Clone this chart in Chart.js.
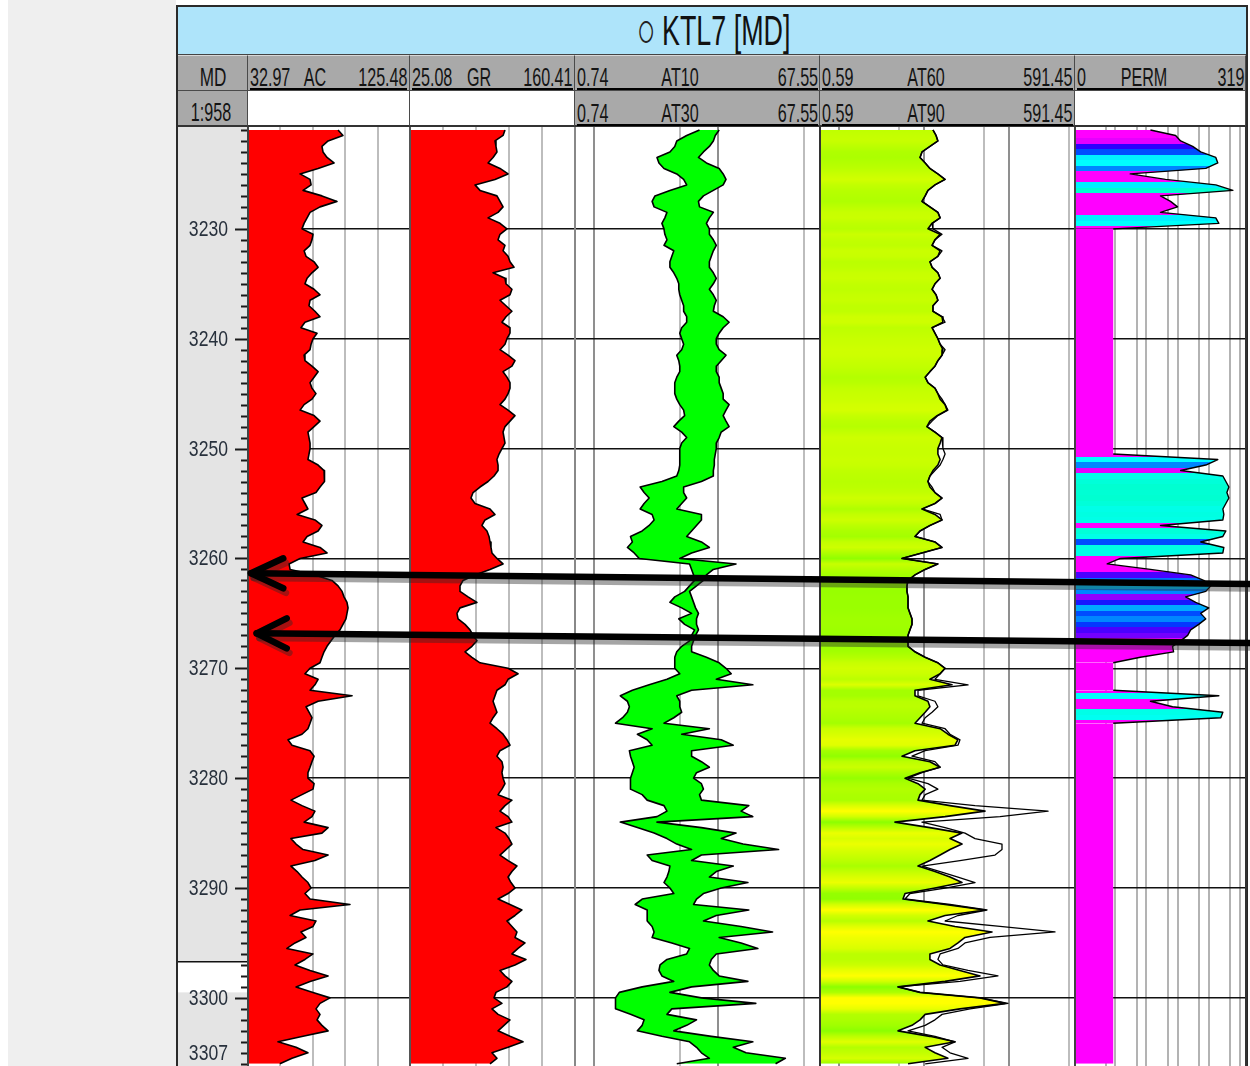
<!DOCTYPE html>
<html>
<head>
<meta charset="utf-8">
<script src="https://cdn.jsdelivr.net/npm/chart.js@4.4.1/dist/chart.umd.min.js"></script>
<style>
  html,body{margin:0;padding:0;}
  body{width:1250px;height:1066px;position:relative;overflow:hidden;background:#fff;font-family:"Liberation Sans",Arial,sans-serif;}
  .a{position:absolute;box-sizing:border-box;}
  .t{position:absolute;white-space:nowrap;color:#141414;}
  canvas{position:absolute;display:block;}
</style>
</head>
<body>
<div class="a" style="left:8px;top:0;width:168px;height:1066px;background:#efefef"></div>
<div class="a" style="left:176px;top:5px;width:1072px;height:1080px;border:2px solid #2a2a2a;background:#fff"></div>
<div class="a" style="left:178px;top:7px;width:1068px;height:48px;background:#aee4fa;border-bottom:1px solid #444"></div>
<script>
// ---------------- DATA ----------------
const depthTop = 3220.73, depthBottom = 3306.2;
const sampleStart = 3221, sampleStep = 0.5;
const depthTicks = [3220, 3230, 3240, 3250, 3260, 3270, 3280, 3290, 3300];
const bottomTickLabel = '3307', bottomTickDepth = 3305;
const scaleNote = '1:958';
const whiteBand = [3296.7, 3299.5];

const AC_RANGE = [32.97, 125.48];
const GR_RANGE = [25.08, 160.41];
const AT_SHALLOW_RANGE = [0.74, 67.55];
const AT_DEEP_RANGE = [0.59, 591.45];
const PERM_RANGE = [0.001, 319];

const AC = [
 84.4,87.2,78.7,75.2,75.8,78.1,82.1,73.0,62.7,68.4,
 69.0,64.4,75.2,83.8,74.1,68.4,66.7,65.0,63.8,70.1,
 69.5,68.4,65.0,66.1,70.7,73.0,69.5,66.7,65.5,70.7,
 74.1,68.4,67.8,71.2,74.1,65.5,63.2,72.4,70.1,69.0,
 68.4,65.0,65.5,69.5,73.0,70.7,68.4,69.5,71.8,69.5,
 65.0,62.7,70.7,74.1,70.7,67.2,67.8,68.4,68.4,67.8,
 67.2,73.0,76.4,76.4,76.9,74.1,71.8,63.8,65.5,67.2,
 61.0,71.2,75.2,73.0,66.7,64.4,74.1,78.1,62.7,56.4,
 57.0,71.2,80.9,84.4,86.7,87.8,89.5,90.1,89.5,88.9,
 87.2,85.5,82.7,80.4,78.1,76.4,75.2,74.1,68.4,65.5,
 73.0,71.2,68.4,92.4,73.0,66.1,67.8,69.5,68.4,67.2,
 63.8,55.8,58.1,68.4,70.7,69.5,68.4,67.2,67.2,70.7,
 70.1,63.8,57.5,63.8,71.2,69.5,65.0,78.7,75.2,57.5,
 60.4,64.4,78.7,71.2,57.5,61.0,63.8,67.2,69.0,65.5,
 68.4,91.2,62.7,57.0,71.8,70.1,63.2,66.1,59.8,55.2,
 70.1,65.5,59.8,68.4,78.7,68.4,60.4,70.1,79.8,74.1,
 71.8,74.1,72.4,75.2,78.7,64.4,50.1,60.4,67.2,58.1,
 51.2];

const GR = [
 103.0,101.4,94.8,95.6,96.4,93.2,89.1,98.9,105.5,94.8,
 78.4,82.5,96.4,98.9,101.4,97.3,89.1,98.9,104.6,98.9,
 97.3,103.0,101.4,105.5,107.1,110.4,93.2,103.0,103.8,108.7,
 107.1,98.9,103.8,108.7,103.8,100.5,107.1,107.1,104.6,103.0,
 98.9,105.5,111.2,108.7,101.4,104.6,107.1,107.1,105.5,103.0,
 98.9,105.5,111.2,107.1,103.0,101.4,102.2,103.0,100.5,98.1,
 96.4,97.3,97.3,94.0,89.1,82.5,76.8,75.1,78.4,90.7,
 94.8,86.6,84.1,88.2,89.9,90.7,91.5,92.3,96.4,101.4,
 90.7,78.4,68.6,66.1,66.1,72.7,80.0,66.1,63.6,64.5,
 70.2,74.3,76.8,80.0,75.9,70.2,75.9,82.5,105.5,113.7,
 105.5,103.0,96.4,94.8,93.2,94.8,96.4,93.2,90.7,96.4,
 101.4,104.6,107.1,98.9,96.4,100.5,101.4,100.5,101.4,103.0,
 100.5,97.3,108.7,103.0,98.9,105.5,108.7,95.6,103.0,106.3,
 108.7,103.8,98.9,105.5,112.8,108.7,105.5,107.9,111.2,105.5,
 97.3,107.1,116.9,111.2,104.6,108.7,112.8,111.2,119.4,113.7,
 108.7,120.2,111.2,98.9,103.0,108.7,104.6,95.6,94.0,100.5,
 92.3,97.3,107.1,102.2,97.3,107.1,117.8,105.5,92.3,96.4,
 90.7];

const AT10 = [
 7.14,5.62,4.67,4.50,4.11,3.23,3.35,3.68,4.67,5.31,
 5.62,4.11,3.11,2.95,3.06,3.89,3.74,3.54,3.68,3.74,
 3.89,3.68,4.42,4.26,4.11,4.11,4.42,4.67,4.85,4.85,
 4.94,5.12,5.31,5.31,5.62,5.62,5.12,4.94,5.12,5.31,
 5.12,4.67,4.85,4.94,4.94,4.67,4.50,4.50,4.50,4.67,
 4.94,5.31,5.41,4.85,4.42,5.12,5.62,5.12,4.94,4.94,
 4.94,4.94,4.85,4.67,3.54,2.36,2.54,2.79,2.54,2.36,
 2.95,3.06,2.79,2.45,1.97,2.04,1.86,2.11,2.32,5.93,
 6.16,6.39,6.51,5.93,5.41,4.50,4.11,5.12,6.16,4.85,
 5.41,6.51,6.16,5.93,5.12,4.67,4.50,4.50,4.50,4.94,
 3.89,2.79,2.04,1.63,1.86,1.93,1.86,1.70,1.49,2.95,
 2.24,2.69,2.95,1.93,1.97,2.04,2.11,2.04,1.97,1.97,
 1.97,2.45,2.69,3.68,3.89,3.23,1.63,2.24,3.06,3.89,
 4.67,6.16,2.69,2.95,4.11,4.03,3.89,3.68,4.11,4.42,
 2.45,2.15,2.69,2.69,2.69,2.95,3.06,2.95,4.26,5.93,
 5.62,3.89,3.42,3.35,3.54,4.42,2.45,1.60,1.49,1.49,
 1.49,1.97,2.54,2.45,2.24,3.54,5.93,6.75,7.40,8.58,
 4.67];

const AT30 = [
 10.3,9.58,9.24,8.58,7.68,7.00,8.12,10.3,11.1,11.7,
 11.1,9.24,7.68,7.00,7.14,9.24,8.58,8.12,8.58,8.58,
 9.24,9.76,9.24,8.90,8.58,8.58,9.24,9.76,9.24,8.58,
 9.24,9.76,9.41,9.24,11.1,12.4,11.1,10.3,9.76,9.76,
 10.3,11.7,10.7,9.76,9.76,10.3,10.3,10.7,11.1,11.1,
 12.4,11.7,11.1,11.7,12.4,10.7,10.3,9.76,9.76,9.58,
 9.41,9.41,9.24,9.24,7.40,5.31,5.31,5.62,5.12,4.67,
 7.40,7.40,6.75,6.16,5.62,7.40,8.58,6.16,4.94,14.1,
 9.24,8.12,7.68,6.75,5.93,6.16,6.39,6.63,7.00,6.75,
 6.75,7.00,6.63,6.39,6.16,6.16,8.12,10.3,11.7,12.9,
 9.76,19.3,6.16,4.67,4.94,4.94,5.12,4.42,3.68,8.58,
 5.12,10.7,13.4,6.16,6.16,7.40,8.58,6.75,6.39,7.40,
 7.68,7.14,7.40,17.9,15.5,19.3,3.23,7.40,14.1,10.7,
 16.1,31.2,7.40,6.16,13.4,9.76,8.58,17.6,10.7,7.68,
 6.75,6.39,17.9,9.76,7.68,15.5,27.9,10.3,15.5,21.2,
 9.76,8.90,8.58,9.24,10.3,17.6,6.16,4.11,7.40,20.4,
 4.26,3.89,6.75,5.62,4.42,8.90,19.3,13.4,17.0,35.4,
 29.5];

const AT60 = [
 12.6,13.7,14.4,11.6,9.36,8.87,10.2,11.6,14.4,17.5,
 13.3,11.0,10.2,9.36,11.6,14.4,15.3,12.3,11.0,15.3,
 13.3,12.3,15.3,14.4,11.6,12.3,14.4,15.3,13.3,12.3,
 13.7,14.4,12.6,12.6,16.1,16.5,12.3,13.3,14.4,15.3,
 16.5,16.1,14.4,13.3,11.6,10.2,11.0,13.3,14.4,15.3,
 17.5,18.4,14.1,11.6,10.7,13.3,16.1,15.3,14.4,14.4,
 15.3,14.4,12.6,11.6,11.0,11.6,13.3,16.1,13.3,9.36,
 13.3,16.1,11.6,8.87,7.74,13.3,16.1,9.36,5.44,14.4,
 10.2,7.74,6.41,6.23,6.23,6.41,6.41,6.41,6.76,7.14,
 7.14,6.76,6.41,6.41,6.41,7.74,10.2,14.4,17.5,15.3,
 11.6,21.1,7.74,7.74,11.0,11.6,10.2,8.87,7.74,15.3,
 18.9,24.8,22.9,7.74,5.44,11.6,15.3,8.87,5.91,8.40,
 10.2,8.87,8.40,20.0,51.6,17.5,4.50,11.6,27.7,20.0,
 27.7,20.0,15.3,11.6,8.40,13.3,20.0,27.7,13.3,5.91,
 5.59,17.5,51.6,17.5,11.0,22.9,62.4,30.0,24.8,20.0,
 11.6,11.6,15.3,26.2,45.1,17.5,4.89,8.87,45.1,88.8,
 26.2,10.2,8.87,7.14,4.89,11.6,22.9,10.2,13.3,18.9,
 6.41];

const AT90 = [
 12.6,13.7,14.4,11.6,9.36,8.87,10.2,11.6,14.4,17.5,
 13.3,11.0,10.2,9.36,11.6,14.4,15.3,12.3,12.6,16.1,
 13.3,12.3,16.1,14.4,11.6,12.3,14.4,15.3,13.3,12.3,
 13.7,14.4,12.6,12.6,16.1,17.5,12.3,13.3,14.4,15.3,
 17.5,16.1,14.4,13.3,11.6,10.2,11.0,13.3,14.4,16.1,
 17.5,18.9,14.4,12.3,10.7,13.3,16.1,16.5,16.5,17.5,
 16.5,15.3,13.3,11.6,11.0,12.3,13.3,16.1,13.3,9.36,
 15.3,16.1,11.6,8.87,7.74,13.3,16.1,9.36,5.44,14.4,
 10.2,7.74,6.41,6.23,6.23,6.41,6.41,6.41,6.76,7.14,
 7.14,6.76,6.41,6.41,6.41,7.74,10.2,14.4,17.5,15.3,
 13.3,32.6,8.40,8.40,13.3,14.4,12.3,10.2,9.36,17.5,
 20.0,26.2,24.8,10.2,7.14,13.3,15.3,9.36,6.41,11.0,
 14.4,10.2,9.36,39.4,285,77.5,9.36,17.5,30.0,39.4,
 81.8,81.8,67.7,26.2,9.36,15.3,24.8,39.4,17.5,6.76,
 5.91,20.0,54.5,24.8,17.5,77.5,344,59.1,30.0,24.8,
 15.3,14.4,16.5,32.6,73.4,26.2,4.89,8.87,45.1,96.3,
 34.4,16.1,13.3,10.2,6.41,13.3,22.9,16.1,20.0,32.6,
 10.2];

const PERM = [
 0.268,1.73,2.51,6.13,11.1,34.0,39.5,16.2,0.06,0.82,
 34.0,121,0.565,1.19,2.0,0.565,34.0,42.6,0.017,0.017,
 0.017,0.017,0.017,0.017,0.017,0.017,0.017,0.017,0.017,0.017,
 0.017,0.017,0.017,0.017,0.017,0.017,0.017,0.017,0.017,0.017,
 0.017,0.017,0.017,0.017,0.017,0.017,0.017,0.017,0.017,0.017,
 0.017,0.017,0.017,0.017,0.017,0.017,0.017,0.017,0.017,0.017,
 39.5,16.2,2.51,57.4,71.8,89.8,77.3,89.8,71.8,57.4,
 61.8,57.4,0.565,71.8,57.4,11.1,61.8,57.4,0.0286,0.0109,
 0.268,5.28,13.9,23.5,16.2,3.64,7.67,20.2,11.1,16.2,
 9.59,5.28,4.23,2.51,1.38,1.49,0.127,0.017,0.017,0.017,
 0.017,0.017,0.017,42.6,0.268,1.38,57.4,49.4,0.017,0.017,
 0.017,0.017,0.017,0.017,0.017,0.017,0.017,0.017,0.017,0.017,
 0.017,0.017,0.017,0.017,0.017,0.017,0.017,0.017,0.017,0.017,
 0.017,0.017,0.017,0.017,0.017,0.017,0.017,0.017,0.017,0.017,
 0.017,0.017,0.017,0.017,0.017,0.017,0.017,0.017,0.017,0.017,
 0.017,0.017,0.017,0.017,0.017,0.017,0.017,0.017,0.017,0.017,
 0.017,0.017,0.017,0.017,0.017,0.017,0.017,0.017,0.017,0.017,
 0.017];

// Arrow annotations (x in % of overlay width, y in depth)
const arrowTipX = [6.81, 7.34];
const arrowTipDepth = [3261.35, 3266.82];
const arrowHeadX = [9.82, 10.14];
const arrowHeadTopDepth = [3259.99, 3265.45];
const arrowHeadBottomDepth = [3262.72, 3268.18];
const arrowEndX = [100, 100];
const arrowEndDepth = [3262.33, 3267.70];

const depths = AC.map((_, i) => sampleStart + i * sampleStep);

// ---------------- LAYOUT / STYLE ----------------
const TOP = 127, H = 939;
const NARROW = 0.62;

function txt(text, x, baseline, align, size, sx, color) {
  const s = document.createElement('span');
  s.className = 't';
  s.textContent = text;
  s.style.fontSize = size + 'px';
  s.style.lineHeight = size + 'px';
  s.style.top = (baseline - size * 0.846) + 'px';
  if (color) s.style.color = color;
  if (align === 'left') { s.style.left = x + 'px'; s.style.transformOrigin = 'left center'; s.style.transform = `scaleX(${sx})`; }
  else if (align === 'right') { s.style.right = (1250 - x) + 'px'; s.style.transformOrigin = 'right center'; s.style.transform = `scaleX(${sx})`; }
  else { s.style.left = x + 'px'; s.style.transformOrigin = 'center center'; s.style.transform = `translateX(-50%) scaleX(${sx})`; }
  document.body.appendChild(s);
}
function box(left, top, w, h, css) {
  const d = document.createElement('div');
  d.className = 'a';
  d.style.cssText += `left:${left}px;top:${top}px;width:${w}px;height:${h}px;` + css;
  document.body.appendChild(d);
  return d;
}

// Title
txt('\u25CB', 646, 47, 'center', 50, 0.62, '#222');
txt('KTL7 [MD]', 662, 46, 'left', 42, 0.64, '#111');

// Header cells: [left, width, row1Gray, row2Gray]
const hdrLayout = [
  [178, 70, true, true], [248, 162, true, false], [410, 165, true, false],
  [575, 245, true, true], [820, 255, true, true], [1075, 171, true, false]
];
hdrLayout.forEach(([l, w, g1, g2]) => {
  box(l, 55, w, 36, `background:${g1 ? '#a9a9a9' : '#fff'};border-right:1px solid #4a4a4a;border-bottom:1px solid #4a4a4a;border-top:1px solid #d8d8d8;`);
  box(l, 91, w, 36, `background:${g2 ? '#a9a9a9' : '#fff'};border-right:1px solid #4a4a4a;border-bottom:2px solid #333;`);
});
// underline (curve line style in header)
[[250, 157, 88], [412, 161, 88], [577, 241, 88], [822, 251, 88], [1077, 166, 88], [577, 241, 124], [822, 251, 124]]
  .forEach(([l, w, t]) => box(l, t, w, 2, 'background:#000;'));

const HS = 26;
txt('MD', 213, 86, 'center', HS, 0.66);
txt(scaleNote, 211, 121, 'center', HS, NARROW);
function hdrCurve(cellL, cellW, nameX, name, range, baseline) {
  txt(range[0], cellL + 2, baseline, 'left', HS, NARROW);
  txt(name, nameX, baseline, 'center', HS, NARROW);
  txt(range[1], cellL + cellW - 2, baseline, 'right', HS, NARROW);
}
hdrCurve(248, 162, 315, 'AC', ['32.97', '125.48'], 86);
hdrCurve(410, 165, 479, 'GR', ['25.08', '160.41'], 86);
hdrCurve(575, 245, 680, 'AT10', ['0.74', '67.55'], 86);
hdrCurve(575, 245, 680, 'AT30', ['0.74', '67.55'], 122);
hdrCurve(820, 255, 926, 'AT60', ['0.59', '591.45'], 86);
hdrCurve(820, 255, 926, 'AT90', ['0.59', '591.45'], 122);
hdrCurve(1075, 171, 1144, 'PERM', ['0', '319'], 86);

// ---------------- CHARTS ----------------
Chart.defaults.font.family = '"Liberation Sans", Arial, sans-serif';

function mkCanvas(left, width, top, height) {
  const c = document.createElement('canvas');
  c.width = width; c.height = height;
  c.style.left = left + 'px'; c.style.top = top + 'px';
  c.style.width = width + 'px'; c.style.height = height + 'px';
  document.body.appendChild(c);
  return c;
}
function pts(arr) { return depths.map((d, i) => ({ x: arr[i], y: d })); }
function yScale() {
  return {
    type: 'linear', reverse: true, min: depthTop, max: depthBottom,
    afterBuildTicks: s => { s.ticks = depthTicks.filter(v => v > depthTop && v < depthBottom).map(v => ({ value: v })); },
    ticks: { display: false }, border: { display: false },
    grid: { color: '#111', lineWidth: 1.5, drawTicks: false }
  };
}
function xScale(type, range, gridVals, colorFn) {
  return {
    type, min: range[0], max: range[1], position: 'top',
    afterBuildTicks: s => { s.ticks = gridVals.map(v => ({ value: v })); },
    ticks: { display: false }, border: { display: false },
    grid: { color: colorFn || '#bdbdbd', lineWidth: 2, drawTicks: false }
  };
}
function opts(xs) {
  return {
    indexAxis: 'y', responsive: false, animation: false, devicePixelRatio: 1, events: [],
    layout: { padding: 0 },
    plugins: { legend: { display: false }, tooltip: { enabled: false } },
    elements: { point: { radius: 0 }, line: { tension: 0, borderJoinStyle: 'round' } },
    scales: { x: xs, y: yScale() }
  };
}
function linGrid(range, n) { const g = []; for (let k = 0; k <= n; k++) g.push(range[0] + (range[1] - range[0]) * k / n); return g; }

function gradientFill(values, colorFn, stepped) {
  return (c) => {
    const chart = c.chart, area = chart.chartArea;
    if (!area) return 'rgba(0,0,0,0)';
    const y = chart.scales.y, top = area.top, h = area.bottom - area.top;
    const g = chart.ctx.createLinearGradient(0, top, 0, area.bottom);
    const cl = v => Math.min(1, Math.max(0, v));
    depths.forEach((d, i) => {
      const v = values[i];
      if (v == null) return;
      const col = colorFn(v);
      if (stepped) {
        g.addColorStop(cl((y.getPixelForValue(d - sampleStep / 2) - top) / h), col);
        g.addColorStop(cl((y.getPixelForValue(d + sampleStep / 2) - top) / h), col);
      } else {
        g.addColorStop(cl((y.getPixelForValue(d) - top) / h), col);
      }
    });
    return g;
  };
}
function resColor(v) {
  const t = Math.min(1, Math.max(0, (Math.log10(v) - 0.7) / 0.9));
  return `rgb(${Math.round(140 + 115 * t)},255,0)`;
}
const permStops = [[-3, [255, 0, 255]], [0.35, [255, 0, 255]], [0.55, [150, 0, 255]], [0.8, [40, 0, 255]],
  [1.0, [0, 60, 255]], [1.2, [0, 130, 255]], [1.4, [0, 210, 255]], [1.6, [0, 255, 255]], [1.9, [0, 255, 210]], [3, [0, 255, 190]]];
function permColor(v) {
  const l = Math.log10(v);
  for (let k = 1; k < permStops.length; k++) {
    const [l0, c0] = permStops[k - 1], [l1, c1] = permStops[k];
    if (l <= l1) {
      const t = Math.max(0, (l - l0) / (l1 - l0));
      return `rgb(${c0.map((c, j) => Math.round(c + (c1[j] - c) * t)).join(',')})`;
    }
  }
  return 'rgb(0,255,190)';
}

// MD depth column
const mdPlugin = {
  id: 'mdcol',
  afterDraw(chart) {
    const { ctx, chartArea: a, scales: { y } } = chart;
    ctx.save();
    ctx.fillStyle = '#e4e4e4';
    ctx.fillRect(a.left, a.top, a.right - a.left, a.bottom - a.top);
    const w1 = y.getPixelForValue(whiteBand[0]), w2 = y.getPixelForValue(whiteBand[1]);
    ctx.fillStyle = '#fff';
    ctx.fillRect(a.left, w1, a.right - a.left, w2 - w1);
    ctx.strokeStyle = '#111'; ctx.lineWidth = 1.5;
    ctx.beginPath(); ctx.moveTo(a.left, w1); ctx.lineTo(a.right, w1); ctx.stroke();
    ctx.lineWidth = 2; ctx.strokeStyle = '#1a1a1a';
    for (let d = Math.ceil(y.min); d <= y.max; d += 1) {
      const py = Math.round(y.getPixelForValue(d)) + 0.5;
      const major = d % 10 === 0;
      ctx.beginPath(); ctx.moveTo(a.right - (major ? 13 : 7), py); ctx.lineTo(a.right, py); ctx.stroke();
    }
    ctx.fillStyle = '#27303c';
    ctx.font = '22px "Liberation Sans", Arial, sans-serif';
    ctx.textAlign = 'right'; ctx.textBaseline = 'middle';
    const lab = (text, d) => {
      const py = y.getPixelForValue(d);
      ctx.save(); ctx.translate(50, py); ctx.scale(0.8, 1); ctx.fillText(text, 0, 1); ctx.restore();
    };
    depthTicks.forEach(d => lab(String(d), d));
    lab(bottomTickLabel, bottomTickDepth);
    ctx.restore();
  }
};
new Chart(mkCanvas(178, 70, TOP, H), {
  type: 'line', data: { datasets: [] },
  options: {
    responsive: false, animation: false, devicePixelRatio: 1, events: [],
    plugins: { legend: { display: false }, tooltip: { enabled: false } },
    scales: { x: { display: false, min: 0, max: 1 }, y: { display: false, reverse: true, min: depthTop, max: depthBottom } }
  },
  plugins: [mdPlugin]
});

// AC track
new Chart(mkCanvas(248, 162, TOP, H), {
  type: 'line',
  data: { datasets: [{ data: pts(AC), indexAxis: 'y', borderColor: '#000', borderWidth: 1.6, backgroundColor: '#ff0000', fill: { value: AC_RANGE[0] } }] },
  options: opts(xScale('linear', AC_RANGE, linGrid(AC_RANGE, 5)))
});
// GR track
new Chart(mkCanvas(410, 165, TOP, H), {
  type: 'line',
  data: { datasets: [{ data: pts(GR), indexAxis: 'y', borderColor: '#000', borderWidth: 1.6, backgroundColor: '#ff0000', fill: { value: GR_RANGE[0] } }] },
  options: opts(xScale('linear', GR_RANGE, linGrid(GR_RANGE, 5)))
});
// AT10 / AT30 track
const majorGrid = c => ([1, 10, 100].includes(c.tick.value) ? '#8f8f8f' : '#bdbdbd');
new Chart(mkCanvas(575, 245, TOP, H), {
  type: 'line',
  data: { datasets: [
    { label: 'AT30', data: pts(AT30), indexAxis: 'y', borderColor: '#000', borderWidth: 1.6, fill: false },
    { label: 'AT10', data: pts(AT10), indexAxis: 'y', borderColor: '#000', borderWidth: 1.6, backgroundColor: '#00ff00', fill: '-1' }
  ] },
  options: opts(xScale('logarithmic', AT_SHALLOW_RANGE, [1, 5, 10, 50], majorGrid))
});
// AT60 / AT90 track
new Chart(mkCanvas(820, 255, TOP, H), {
  type: 'line',
  data: { datasets: [
    { label: 'AT90', data: pts(AT90), indexAxis: 'y', borderColor: '#000', borderWidth: 1.3, fill: false },
    { label: 'AT60', data: pts(AT60), indexAxis: 'y', borderColor: '#000', borderWidth: 1.6,
      backgroundColor: gradientFill(AT60, resColor, false), fill: { value: AT_DEEP_RANGE[0] } }
  ] },
  options: opts(xScale('logarithmic', AT_DEEP_RANGE, [1, 5, 10, 50, 100, 500], majorGrid))
});
// PERM track
new Chart(mkCanvas(1075, 171, TOP, H), {
  type: 'line',
  data: { datasets: [
    { label: 'PERM', data: pts(PERM), indexAxis: 'y', borderColor: '#000', borderWidth: 1.4,
      segment: { borderColor: c => (c.p0.parsed.x < 0.02 && c.p1.parsed.x < 0.02) ? 'rgba(0,0,0,0)' : '#000' },
      backgroundColor: gradientFill(PERM, permColor, true), fill: { value: PERM_RANGE[0] } }
  ] },
  options: opts(xScale('logarithmic', PERM_RANGE, [0.01, 0.02, 0.1, 0.2, 1, 2, 10, 20, 100, 200], '#b3b3b3'))
});

// Track separators
[[247, '#444'], [409, '#555'], [574, '#888'], [819, '#333'], [1074, '#444'], [1245, '#333']]
  .forEach(([x, c]) => box(x, TOP, 2, H, `background:${c};`));

// Arrow overlay
const arrowSets = [];
function arrowData(k, dx, dd) {
  return [
    [{ x: arrowHeadX[k] + dx, y: arrowHeadTopDepth[k] + dd }, { x: arrowTipX[k] + dx, y: arrowTipDepth[k] + dd }, { x: arrowHeadX[k] + dx, y: arrowHeadBottomDepth[k] + dd }],
    [{ x: arrowTipX[k] + dx, y: arrowTipDepth[k] + dd }, { x: arrowEndX[k] + dx, y: arrowEndDepth[k] + dd }]
  ];
}
const lineDs = (data, color, w) => ({ data, showLine: true, borderColor: color, borderWidth: w, pointRadius: 0, borderCapStyle: 'round', borderJoinStyle: 'round', fill: false });
[0, 1].forEach(k => arrowData(k, 0, 0).forEach(d => arrowSets.push(lineDs(d, '#000', 6.5))));
[0, 1].forEach(k => arrowData(k, 0.25, 0.42).forEach(d => arrowSets.push(lineDs(d, 'rgba(40,40,40,0.42)', 6.5))));
new Chart(mkCanvas(178, 1072, TOP, H), {
  type: 'scatter',
  data: { datasets: arrowSets },
  options: {
    responsive: false, animation: false, devicePixelRatio: 1, events: [],
    layout: { padding: 0 },
    plugins: { legend: { display: false }, tooltip: { enabled: false } },
    scales: { x: { display: false, min: 0, max: 100 }, y: { display: false, reverse: true, min: depthTop, max: depthBottom } }
  }
});
</script>
</body>
</html>
